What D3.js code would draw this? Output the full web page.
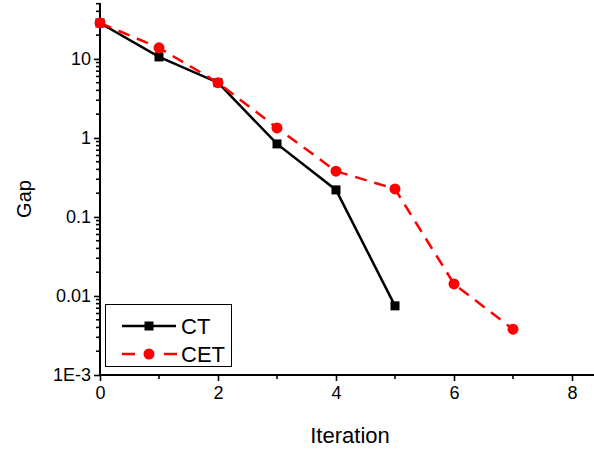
<!DOCTYPE html>
<html>
<head>
<meta charset="utf-8">
<script src="https://cdn.jsdelivr.net/npm/d3@7"></script>
<style>
body { margin: 0; background: #fff; }
svg text { font-family: "Liberation Sans", Arial, sans-serif; }
</style>
</head>
<body>
<script>
// values
var ctIter = [0, 1, 2, 3, 4, 5];
var ctGap = [28.5, 10.6, 5.0, 0.84, 0.22, 0.0075];
var cetIter = [0, 1, 2, 3, 4, 5, 6, 7];
var cetGap = [28.5, 13.8, 5.0, 1.34, 0.38, 0.226, 0.0142, 0.0038];
var xTicks = [0, 2, 4, 6, 8];
var xMinor = [1, 3, 5, 7];
var yTicks = [1e-3, 0.01, 0.1, 1, 10];
var yLabels = ["1E-3", "0.01", "0.1", "1", "10"];

var width = 594, height = 450;

var x = d3.scaleLinear().domain([0, 8.4]).range([100, 595.6]);
var y = d3.scaleLog().domain([1e-3, 51]).range([375, 3]);

var svg = d3.select("body").append("svg")
    .attr("width", width)
    .attr("height", height);

// y minor ticks (2..9 per decade)
var yMinor = [];
[1e-3, 1e-2, 1e-1, 1, 10].forEach(function(d) {
  for (var k = 2; k <= 9; k++) {
    if (d * k <= 51) yMinor.push(d * k);
  }
});

var yAxis = svg.append("g")
    .attr("transform", "translate(100,0)")
    .call(d3.axisLeft(y).tickValues(yTicks)
      .tickFormat(function(d, i) { return yLabels[i]; })
      .tickSize(6).tickPadding(3));
yAxis.append("g").selectAll("line")
    .data(yMinor)
  .enter().append("line")
    .attr("x1", 0).attr("x2", -4)
    .attr("y1", function(d) { return y(d); })
    .attr("y2", function(d) { return y(d); })
    .attr("stroke", "#000").attr("stroke-width", 1.6);

var xAxis = svg.append("g")
    .attr("transform", "translate(0,375)")
    .call(d3.axisBottom(x).tickValues(xTicks)
      .tickFormat(d3.format("d"))
      .tickSize(6).tickPadding(5));
xAxis.append("g").selectAll("line")
    .data(xMinor)
  .enter().append("line")
    .attr("x1", function(d) { return x(d); })
    .attr("x2", function(d) { return x(d); })
    .attr("y1", 0).attr("y2", 4)
    .attr("stroke", "#000").attr("stroke-width", 1.6);

svg.selectAll(".domain").attr("stroke-width", 2);
yAxis.select(".domain").attr("d", "M0,3V376");
xAxis.select(".domain").attr("d", "M99,0H594");
svg.selectAll(".tick line").attr("stroke-width", 1.6);
svg.selectAll(".tick text").attr("font-size", 18).attr("fill", "#000");

svg.append("text")
    .attr("x", 350).attr("y", 443)
    .attr("text-anchor", "middle")
    .attr("font-size", 22)
    .text("Iteration");
svg.append("text")
    .attr("transform", "translate(31,199) rotate(-90)")
    .attr("text-anchor", "middle")
    .attr("font-size", 20)
    .text("Gap");

var line = d3.line()
    .x(function(d) { return x(d[0]); })
    .y(function(d) { return y(d[1]); });

var ct = ctIter.map(function(d, i) { return [d, ctGap[i]]; });
var cet = cetIter.map(function(d, i) { return [d, cetGap[i]]; });

svg.append("path")
    .datum(ct)
    .attr("fill", "none")
    .attr("stroke", "#000")
    .attr("stroke-width", 2.5)
    .attr("d", line);
svg.append("path")
    .datum(cet)
    .attr("fill", "none")
    .attr("stroke", "#ff0000")
    .attr("stroke-width", 2.5)
    .attr("stroke-dasharray", "12,8")
    .attr("d", line);

svg.selectAll(".sq")
    .data(ct)
  .enter().append("rect")
    .attr("class", "sq")
    .attr("x", function(d) { return x(d[0]) - 4.5; })
    .attr("y", function(d) { return y(d[1]) - 4.5; })
    .attr("width", 9).attr("height", 9)
    .attr("fill", "#000");
svg.selectAll(".dot")
    .data(cet)
  .enter().append("circle")
    .attr("class", "dot")
    .attr("cx", function(d) { return x(d[0]); })
    .attr("cy", function(d) { return y(d[1]); })
    .attr("r", 5.5)
    .attr("fill", "#ff0000");

// legend
var lg = svg.append("g");
lg.append("rect")
    .attr("x", 105.5).attr("y", 304.5)
    .attr("width", 126).attr("height", 62)
    .attr("fill", "#fff")
    .attr("stroke", "#000").attr("stroke-width", 1);
lg.append("line")
    .attr("x1", 122).attr("x2", 176).attr("y1", 326).attr("y2", 326)
    .attr("stroke", "#000").attr("stroke-width", 2.5);
lg.append("rect")
    .attr("x", 144.5).attr("y", 321.5).attr("width", 9).attr("height", 9)
    .attr("fill", "#000");
lg.append("line")
    .attr("x1", 122).attr("x2", 177).attr("y1", 354).attr("y2", 354)
    .attr("stroke", "#ff0000").attr("stroke-width", 2.5)
    .attr("stroke-dasharray", "13,29");
lg.append("circle")
    .attr("cx", 149).attr("cy", 354).attr("r", 5.5)
    .attr("fill", "#ff0000");
lg.append("text")
    .attr("x", 181).attr("y", 334)
    .attr("font-size", 22)
    .text("CT");
lg.append("text")
    .attr("x", 181).attr("y", 362)
    .attr("font-size", 22)
    .text("CET");
</script>
</body>
</html>
